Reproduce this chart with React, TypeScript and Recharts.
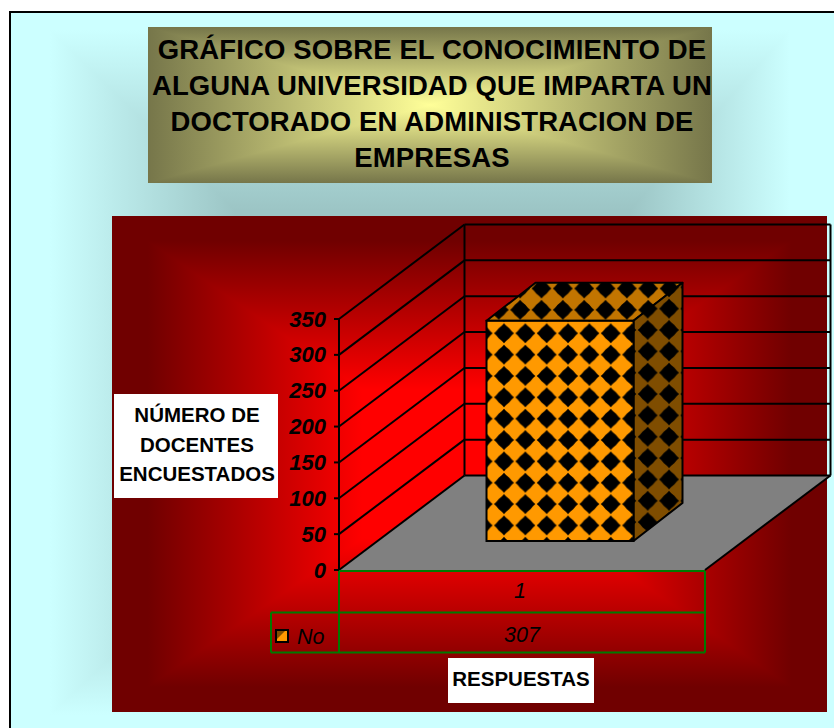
import React from 'react';
import { ComposedChart, Bar, XAxis, YAxis, CartesianGrid, Label } from 'recharts';

const categories = ['1'];
const seriesName = 'No';
const seriesValues = [307];
const yTicks = [0, 50, 100, 150, 200, 250, 300, 350];
const titleLines = [
  'GRÁFICO SOBRE EL CONOCIMIENTO DE',
  'ALGUNA UNIVERSIDAD QUE IMPARTA UN',
  'DOCTORADO EN ADMINISTRACION DE',
  'EMPRESAS',
];
const titleBaselines = [59, 95, 131.5, 167.5];
const yAxisTitle = ['NÚMERO DE', 'DOCENTES', 'ENCUESTADOS'];
const xAxisTitle = 'RESPUESTAS';

const chartData = categories.map((c, i) => ({ category: c, value: seriesValues[i] }));

const FONT = '"Liberation Sans", Arial, sans-serif';
const W = 834;
const H = 728;
const DEPTH_X = 125.5;
const DEPTH_Y = -94.5;
const BAR_OFFSET_X = 37.5;
const BAR_INSET = 0.307;
const BAR_DX = 49;
const BAR_DY = -38;
const PLOT_H = 251;
const GREEN = '#007a00';
const TILE = 21.35;

const diamond = 'M0,-10 L2,-7.8 L5.2,-5.2 L7.8,-2 L10,0 L7.8,2 L5.2,5.2 L2,7.8 L0,10 L-2,7.8 L-5.2,5.2 L-7.8,2 L-10,0 L-7.8,-2 L-5.2,-5.2 L-2,-7.8 Z';

function DiamondPattern({ id, color, cx, cy }: { id: string; color: string; cx: number; cy: number }) {
  return (
    <pattern id={id} patternUnits="userSpaceOnUse" x={cx - TILE / 2} y={cy - TILE / 2} width={TILE} height={TILE}>
      <rect width={TILE} height={TILE} fill={color} />
      <path d={diamond} transform={`translate(${TILE / 2},${TILE / 2})`} fill="#000" />
    </pattern>
  );
}

function Bar3D(props: any) {
  const { x, y, width, height } = props;
  const fx = x + BAR_OFFSET_X;
  const fy = y + DEPTH_Y * BAR_INSET;
  const r = fx + width;
  const b = fy + height;
  return (
    <g>
      <defs>
        <DiamondPattern id="pFront" color="#FF9900" cx={504} cy={333.3} />
        <DiamondPattern id="pTop" color="#C27500" cx={541.5} cy={288.5} />
        <DiamondPattern id="pSide" color="#7F4D00" cx={647.7} cy={330} />
      </defs>
      <polygon
        points={`${fx},${fy} ${fx + BAR_DX},${fy + BAR_DY} ${r + BAR_DX},${fy + BAR_DY} ${r},${fy}`}
        fill="url(#pTop)" stroke="#000" strokeWidth={2} strokeLinejoin="round"
      />
      <polygon
        points={`${r},${fy} ${r + BAR_DX},${fy + BAR_DY} ${r + BAR_DX},${b + BAR_DY} ${r},${b}`}
        fill="url(#pSide)" stroke="#000" strokeWidth={2} strokeLinejoin="round"
      />
      <rect x={fx} y={fy} width={width} height={height} fill="url(#pFront)" stroke="#000" strokeWidth={2} />
    </g>
  );
}

function GridLine3D(props: any) {
  const { x1, y1, x2 } = props;
  const bx = x1 + DEPTH_X;
  const by = y1 + DEPTH_Y;
  const rx = x2 + DEPTH_X;
  const isFloor = Math.abs(y1 - 570) < 1;
  return (
    <g>
      {isFloor && (
        <>
          <polygon points={`${x1},${y1} ${bx},${by} ${rx},${by} ${x2},${y1}`} fill="#808080" />
          <line x1={x2} y1={y1} x2={rx} y2={by} stroke="#000" strokeWidth={2} />
          <line x1={bx} y1={by} x2={bx} y2={by - PLOT_H} stroke="#000" strokeWidth={2} />
          <line x1={rx} y1={by} x2={rx} y2={by - PLOT_H} stroke="#000" strokeWidth={2} />
        </>
      )}
      <line x1={x1} y1={y1} x2={bx} y2={by} stroke="#000" strokeWidth={2} />
      <line x1={bx} y1={by} x2={rx} y2={by} stroke="#000" strokeWidth={2} />
    </g>
  );
}

function YTick(props: any) {
  const { y, payload } = props;
  return (
    <g>
      <line x1={334} y1={y} x2={339} y2={y} stroke="#000" strokeWidth={2} />
      <text
        x={326} y={y + 7.5} textAnchor="end" fontFamily={FONT}
        fontSize={22} fontWeight="bold" fontStyle="italic" fill="#000"
      >
        {payload.value}
      </text>
    </g>
  );
}

function TableTick(props: any) {
  const { x, payload, index } = props;
  const value = seriesValues[index ?? 0];
  return (
    <g>
      <g stroke={GREEN} strokeWidth={2} fill="none">
        <line x1={271} y1={612.5} x2={705} y2={612.5} />
        <line x1={271} y1={652.5} x2={705} y2={652.5} />
        <line x1={271} y1={612.5} x2={271} y2={652.5} />
        <line x1={339} y1={571} x2={339} y2={652.5} />
        <line x1={705} y1={571} x2={705} y2={652.5} />
        <line x1={339} y1={571} x2={705} y2={571} />
      </g>
      <text x={x - 2} y={598} textAnchor="middle" fontFamily={FONT} fontSize={21.5} fontStyle="italic" fill="#000">
        {payload.value}
      </text>
      <text x={x} y={642} textAnchor="middle" fontFamily={FONT} fontSize={21.5} fontStyle="italic" fill="#000">
        {value}
      </text>
      <rect x={276} y={630} width={12} height={12} fill="#FF9900" stroke="#000" strokeWidth={2} />
      <polygon points="277,631 285,631 277,639" fill="#7F4D00" />
      <text x={297} y={644} fontFamily={FONT} fontSize={21.5} fontStyle="italic" fill="#000">
        {seriesName}
      </text>
    </g>
  );
}

function YTitle() {
  const lines = [415, 445, 474];
  return (
    <g>
      <rect x={114} y={394} width={164} height={104} fill="#fff" />
      {yAxisTitle.map((t, i) => (
        <text key={t} x={197} y={lines[i] + 7} textAnchor="middle" fontFamily={FONT} fontSize={20.5} fontWeight="bold" fill="#000">
          {t}
        </text>
      ))}
    </g>
  );
}

function XTitle() {
  return (
    <g>
      <rect x={448} y={658} width={146} height={45} fill="#fff" />
      <text x={521} y={686} textAnchor="middle" fontFamily={FONT} fontSize={20.5} fontWeight="bold" fill="#000">
        {xAxisTitle}
      </text>
    </g>
  );
}

export default function App() {
  return (
    <div style={{ position: 'fixed', left: 0, top: 0, width: W, height: H, overflow: 'hidden', background: '#fff' }}>
      <div
        style={{
          position: 'absolute', left: 11, top: 13, width: W, height: H,
          backgroundImage:
            'linear-gradient(to right, #ccffff 39px, #9cc5c5 224px, #9cc5c5 619px, #ccffff 779px), ' +
            'linear-gradient(to bottom, #ccffff 17px, #9cc5c5 197px, #9cc5c5 527px, #ccffff 702px)',
          backgroundBlendMode: 'lighten',
        }}
      />
      <div
        style={{
          position: 'absolute', left: 9, top: 11, width: 880, height: 780, boxSizing: 'border-box',
          border: '2.5px solid #000',
        }}
      />
      <div
        style={{
          position: 'absolute', left: 148, top: 27, width: 564, height: 156,
          backgroundImage:
            'linear-gradient(to right, #76764a 0%, #ffff99 50%, #76764a 100%), ' +
            'linear-gradient(to bottom, #76764a 0%, #ffff99 50%, #76764a 100%)',
          backgroundBlendMode: 'darken',
        }}
      />
      {titleLines.map((t, i) => (
        <div
          key={t}
          style={{
            position: 'absolute', left: 150, width: 564, textAlign: 'center', top: titleBaselines[i] - 24.5,
            height: 30, lineHeight: '30px', fontFamily: FONT, fontWeight: 'bold', fontSize: 27.5,
            letterSpacing: 0.12, color: '#000', whiteSpace: 'nowrap',
          }}
        >
          {t}
        </div>
      ))}
      <div
        style={{
          position: 'absolute', left: 112, top: 216, width: 715, height: 496,
          backgroundImage:
            'linear-gradient(to right, #700000 5%, #ff0000 35%, #ff0000 65%, #700000 95%), ' +
            'linear-gradient(to bottom, #700000 5%, #ff0000 35%, #ff0000 65%, #700000 95%)',
          backgroundBlendMode: 'darken',
        }}
      />
      <div style={{ position: 'absolute', left: 0, top: 0 }}>
        <ComposedChart
          width={W}
          height={H}
          data={chartData}
          margin={{ top: 319, right: 129, bottom: 128, left: 279 }}
        >
          <CartesianGrid vertical={false} horizontal={(p: any) => <GridLine3D key={p.key} {...p} />} />
          <XAxis dataKey="category" height={30} axisLine={false} tickLine={false} tick={<TableTick />} interval={0}>
            <Label content={<XTitle />} />
          </XAxis>
          <YAxis
            width={60}
            domain={[0, 350]}
            ticks={yTicks}
            interval={0}
            axisLine={{ stroke: '#000', strokeWidth: 2 }}
            tickLine={false}
            tick={<YTick />}
          >
            <Label content={<YTitle />} />
          </YAxis>
          <Bar dataKey="value" name={seriesName} barSize={147} shape={<Bar3D />} isAnimationActive={false} />
        </ComposedChart>
      </div>
    </div>
  );
}
